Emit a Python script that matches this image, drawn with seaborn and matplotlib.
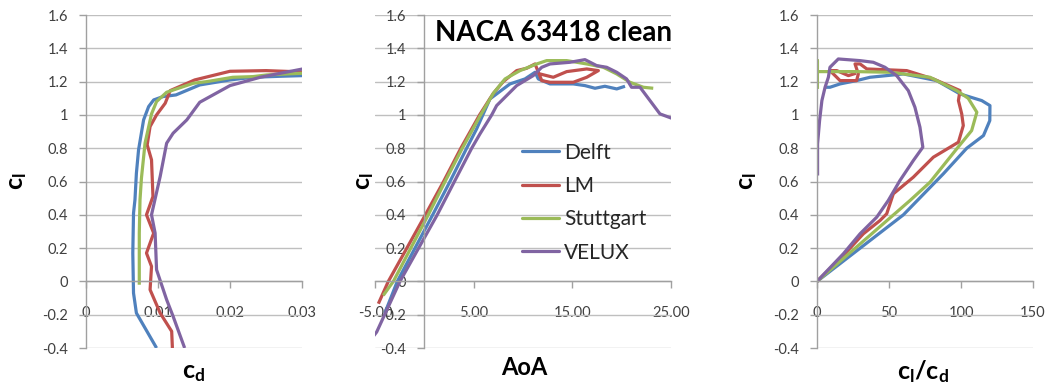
import numpy as np
import pandas as pd
import matplotlib
matplotlib.use("Agg")
import matplotlib.pyplot as plt
import seaborn as sns

# ---------------- data ----------------
series = ["Delft", "LM", "Stuttgart", "VELUX"]
colors = {"Delft": "#4F81BD", "LM": "#C0504D", "Stuttgart": "#9BBB59", "VELUX": "#8064A2"}

# panel 1: cl vs cd
delft_cd = [0.0098, 0.0070, 0.0066, 0.0065, 0.0066, 0.0068, 0.0070, 0.0073, 0.0080, 0.0087, 0.0094, 0.0107, 0.0125, 0.0158, 0.0200, 0.0232, 0.0270, 0.0301, 0.0350]
delft_cd_cl = [-0.40, -0.19, -0.07, 0.17, 0.41, 0.49, 0.65, 0.79, 0.97, 1.05, 1.09, 1.11, 1.12, 1.18, 1.21, 1.226, 1.232, 1.236, 1.24]
lm_cd = [0.0120, 0.0119, 0.0103, 0.0089, 0.0091, 0.0084, 0.0094, 0.0084, 0.0093, 0.0091, 0.0085, 0.0089, 0.0098, 0.0110, 0.0117, 0.0151, 0.0200, 0.0250, 0.0300, 0.0350]
lm_cd_cl = [-0.40, -0.30, -0.19, -0.05, 0.09, 0.17, 0.29, 0.40, 0.51, 0.73, 0.82, 0.93, 1.00, 1.07, 1.146, 1.21, 1.262, 1.266, 1.258, 1.255]
stuttgart_cd = [0.0074, 0.0074, 0.0075, 0.0077, 0.0082, 0.0091, 0.0098, 0.0112, 0.0149, 0.0168, 0.0204, 0.0232, 0.0251, 0.0279, 0.0300, 0.0350]
stuttgart_cd_cl = [-0.02, 0.29, 0.49, 0.62, 0.83, 1.006, 1.08, 1.136, 1.19, 1.20, 1.226, 1.23, 1.24, 1.246, 1.25, 1.25]
velux_cd = [0.0137, 0.0121, 0.0112, 0.0098, 0.0096, 0.0091, 0.0103, 0.0112, 0.0121, 0.0140, 0.0158, 0.0200, 0.0242, 0.0270, 0.0301, 0.0350]
velux_cd_cl = [-0.40, -0.21, -0.11, 0.07, 0.29, 0.40, 0.63, 0.83, 0.89, 0.97, 1.076, 1.176, 1.226, 1.25, 1.276, 1.29]

# panel 2: cl vs AoA
delft_aoa = [-4.0, -2.74, 0.85, 2.6, 4.29, 5.3, 6.65, 8.68, 10.2, 11.22, 11.55, 12.74, 15.1, 16.28, 17.3, 18.3, 19.5, 20.34]
delft_aoa_cl = [-0.19, 0.0, 0.40, 0.60, 0.80, 0.916, 1.096, 1.186, 1.216, 1.256, 1.216, 1.186, 1.186, 1.176, 1.16, 1.172, 1.156, 1.172]
lm_aoa = [-4.66, -3.65, 0.07, 1.95, 3.7, 5.6, 7.0, 8.0, 9.36, 10.37, 11.22, 11.9, 12.74, 15.1, 16.46, 17.64, 16.46, 14.43, 13.07, 11.72]
lm_aoa_cl = [-0.134, 0.0, 0.396, 0.60, 0.80, 1.0, 1.13, 1.20, 1.266, 1.28, 1.306, 1.206, 1.196, 1.196, 1.226, 1.266, 1.276, 1.26, 1.226, 1.246]
stuttgart_aoa = [-4.16, -3.14, 0.40, 2.1, 3.85, 5.71, 7.0, 8.18, 9.7, 11.39, 12.4, 14.43, 16.46, 18.14, 19.5, 20.84, 22.2, 23.2]
stuttgart_aoa_cl = [-0.084, 0.0, 0.40, 0.60, 0.80, 1.0, 1.13, 1.216, 1.266, 1.306, 1.326, 1.326, 1.306, 1.286, 1.246, 1.196, 1.166, 1.16]
velux_aoa = [-5.3, -4.83, -2.47, 1.31, 3.05, 4.80, 5.64, 6.83, 7.33, 9.36, 11.04, 11.9, 12.74, 14.76, 16.28, 17.47, 18.48, 19.5, 20.5, 21.0, 21.86, 22.87, 23.88, 25.07, 26.0]
velux_aoa_cl = [-0.34, -0.304, 0.0, 0.40, 0.60, 0.80, 0.886, 1.0, 1.056, 1.176, 1.236, 1.286, 1.306, 1.316, 1.332, 1.296, 1.286, 1.256, 1.216, 1.166, 1.166, 1.086, 1.006, 0.98, 0.96]

# panel 3: cl vs cl/cd
delft_ld = [0, 60, 87.7, 104, 115.6, 120, 120.1, 114.4, 99.3, 83.1, 60, 36.8, 27.5, 16, 9, 5.7]
delft_ld_cl = [0, 0.40, 0.646, 0.80, 0.876, 0.966, 1.056, 1.086, 1.126, 1.206, 1.246, 1.226, 1.206, 1.186, 1.166, 1.166]
lm_ld = [0, 18.3, 32.2, 43.8, 48.4, 53, 66.9, 80.8, 98.2, 101.6, 100.5, 98.2, 99.3, 80.8, 62.3, 34.6, 29.9, 26.4, 28.7, 27.5, 16, 13.7, 9, 13.7, 21.8, 27]
lm_ld_cl = [0, 0.156, 0.286, 0.366, 0.406, 0.526, 0.626, 0.746, 0.836, 0.936, 1.006, 1.086, 1.146, 1.216, 1.266, 1.276, 1.306, 1.306, 1.246, 1.206, 1.206, 1.226, 1.266, 1.266, 1.236, 1.25]
stuttgart_ld = [0, 64.6, 78.5, 97, 107.4, 111, 105, 97, 78.5, 50.7, 27.5, 0.3, 0.3, 0.3]
stuttgart_ld_cl = [0, 0.486, 0.596, 0.796, 0.906, 1.016, 1.10, 1.146, 1.226, 1.256, 1.26, 1.26, 1.326, 1.156]
velux_ld = [0, 18.3, 29.9, 41.5, 49.5, 57.6, 66.9, 73.5, 71.5, 68, 63.4, 55.3, 47.2, 39.1, 29.9, 14.8, 9, 7.9, 5.6, 3.4, 1.8, 0.4, 0.4]
velux_ld_cl = [0, 0.166, 0.286, 0.386, 0.486, 0.606, 0.726, 0.806, 0.926, 1.046, 1.146, 1.236, 1.286, 1.316, 1.326, 1.336, 1.286, 1.226, 1.166, 1.086, 0.966, 0.826, 0.636]

y_ticks = [-0.4, -0.2, 0, 0.2, 0.4, 0.6, 0.8, 1.0, 1.2, 1.4, 1.6]
y_ticklabels = ["-0.4", "-0.2", "0", "0.2", "0.4", "0.6", "0.8", "1", "1.2", "1.4", "1.6"]
x1_ticks = [0, 0.01, 0.02, 0.03]
x1_ticklabels = ["0", "0.01", "0.02", "0.03"]
x2_ticks = [-5, 5, 15, 25]
x2_ticklabels = ["-5.00", "5.00", "15.00", "25.00"]
x3_ticks = [0, 50, 100, 150]
x3_ticklabels = ["0", "50", "100", "150"]
title = "NACA 63418 clean"

# ---------------- style ----------------
sns.set_theme(style="white")
plt.rcParams["font.family"] = ["Lato", "DejaVu Sans"]
plt.rcParams["mathtext.fontset"] = "custom"
plt.rcParams["mathtext.rm"] = "Lato"
plt.rcParams["mathtext.bf"] = "Lato:bold"
plt.rcParams["mathtext.it"] = "Lato:italic"

W, H = 1050, 390
fig = plt.figure(figsize=(W / 100, H / 100), dpi=100)
fig.patch.set_facecolor("white")

top, bottom = 15, 348
def axes_at(left, right):
    return fig.add_axes([left / W, 1 - bottom / H, (right - left) / W, (bottom - top) / H])

ax1 = axes_at(86, 302)
ax2 = axes_at(375, 671)
ax3 = axes_at(817, 1033)

grid_c = "#bfbfbf"
spine_c = "#a0a0a0"
text_c = "#404040"

def style(ax, xlim, xt, xtl):
    ax.set_xlim(*xlim)
    ax.set_ylim(-0.4, 1.6)
    ax.set_yticks(y_ticks)
    ax.set_yticklabels(y_ticklabels)
    ax.set_xticks(xt)
    ax.set_xticklabels(xtl)
    ax.yaxis.grid(True, color=grid_c, lw=1.0)
    ax.xaxis.grid(False)
    ax.set_axisbelow(True)
    for s in ["top", "right"]:
        ax.spines[s].set_visible(False)
    ax.spines["left"].set_position(("data", 0))
    ax.spines["bottom"].set_position(("data", 0))
    for s in ["left", "bottom"]:
        ax.spines[s].set_color(spine_c)
        ax.spines[s].set_linewidth(1.0)
    ax.tick_params(axis="y", direction="out", length=5, width=1, color=spine_c,
                   pad=8, labelsize=10.5, labelcolor=text_c, left=True)
    ax.tick_params(axis="x", direction="out", length=5, width=1, color=spine_c,
                   pad=13, labelsize=10.5, labelcolor=text_c, bottom=True)
    ax.set_xlabel("")
    ax.set_ylabel("")
    ax.set_facecolor("white")

def draw(ax, xs, ys, name):
    sns.lineplot(x=xs, y=ys, sort=False, estimator=None, color=colors[name],
                 lw=2.3, ax=ax, legend=False, solid_joinstyle="round", solid_capstyle="butt")

p1 = {"Delft": (delft_cd, delft_cd_cl), "LM": (lm_cd, lm_cd_cl),
      "Stuttgart": (stuttgart_cd, stuttgart_cd_cl), "VELUX": (velux_cd, velux_cd_cl)}
p2 = {"Delft": (delft_aoa, delft_aoa_cl), "LM": (lm_aoa, lm_aoa_cl),
      "Stuttgart": (stuttgart_aoa, stuttgart_aoa_cl), "VELUX": (velux_aoa, velux_aoa_cl)}
p3 = {"Delft": (delft_ld, delft_ld_cl), "LM": (lm_ld, lm_ld_cl),
      "Stuttgart": (stuttgart_ld, stuttgart_ld_cl), "VELUX": (velux_ld, velux_ld_cl)}

for name in series:
    draw(ax1, *p1[name], name)
    draw(ax2, *p2[name], name)
    draw(ax3, *p3[name], name)

style(ax1, (0, 0.03), x1_ticks, x1_ticklabels)
style(ax2, (-5, 25), x2_ticks, x2_ticklabels)
style(ax3, (0, 150), x3_ticks, x3_ticklabels)

# axis labels
lab_kw = dict(fontsize=18, color="black", ha="center", va="center")
ax1.text(-0.315, 0.5, r"$\mathbf{c_l}$", rotation=90, transform=ax1.transAxes, **lab_kw)
ax1.text(0.5, -0.075, r"$\mathbf{c_d}$", transform=ax1.transAxes, **lab_kw)
ax2.text(-0.034, 0.5, r"$\mathbf{c_l}$", rotation=90, transform=ax2.transAxes, **lab_kw)
ax2.text(0.503, -0.06, "AoA", fontweight="bold", transform=ax2.transAxes,
         fontsize=17, color="black", ha="center", va="center")
ax3.text(-0.324, 0.5, r"$\mathbf{c_l}$", rotation=90, transform=ax3.transAxes, **lab_kw)
ax3.text(0.49, -0.07, r"$\mathbf{c_l/c_d}$", transform=ax3.transAxes, **lab_kw)

# title
ax2.text(0.203, 0.946, title, transform=ax2.transAxes, fontsize=20, fontweight="bold",
         ha="left", va="center", color="black")

# legend
handles = [plt.Line2D([], [], color=colors[n], lw=2.3) for n in series]
ax2.legend(handles, series, loc="upper left", bbox_to_anchor=(0.497, 0.617),
           frameon=False, fontsize=15, handlelength=1.75, handletextpad=0.25,
           labelspacing=0.64, borderaxespad=0, borderpad=0)

fig.savefig("out.png", dpi=100, facecolor="white")
